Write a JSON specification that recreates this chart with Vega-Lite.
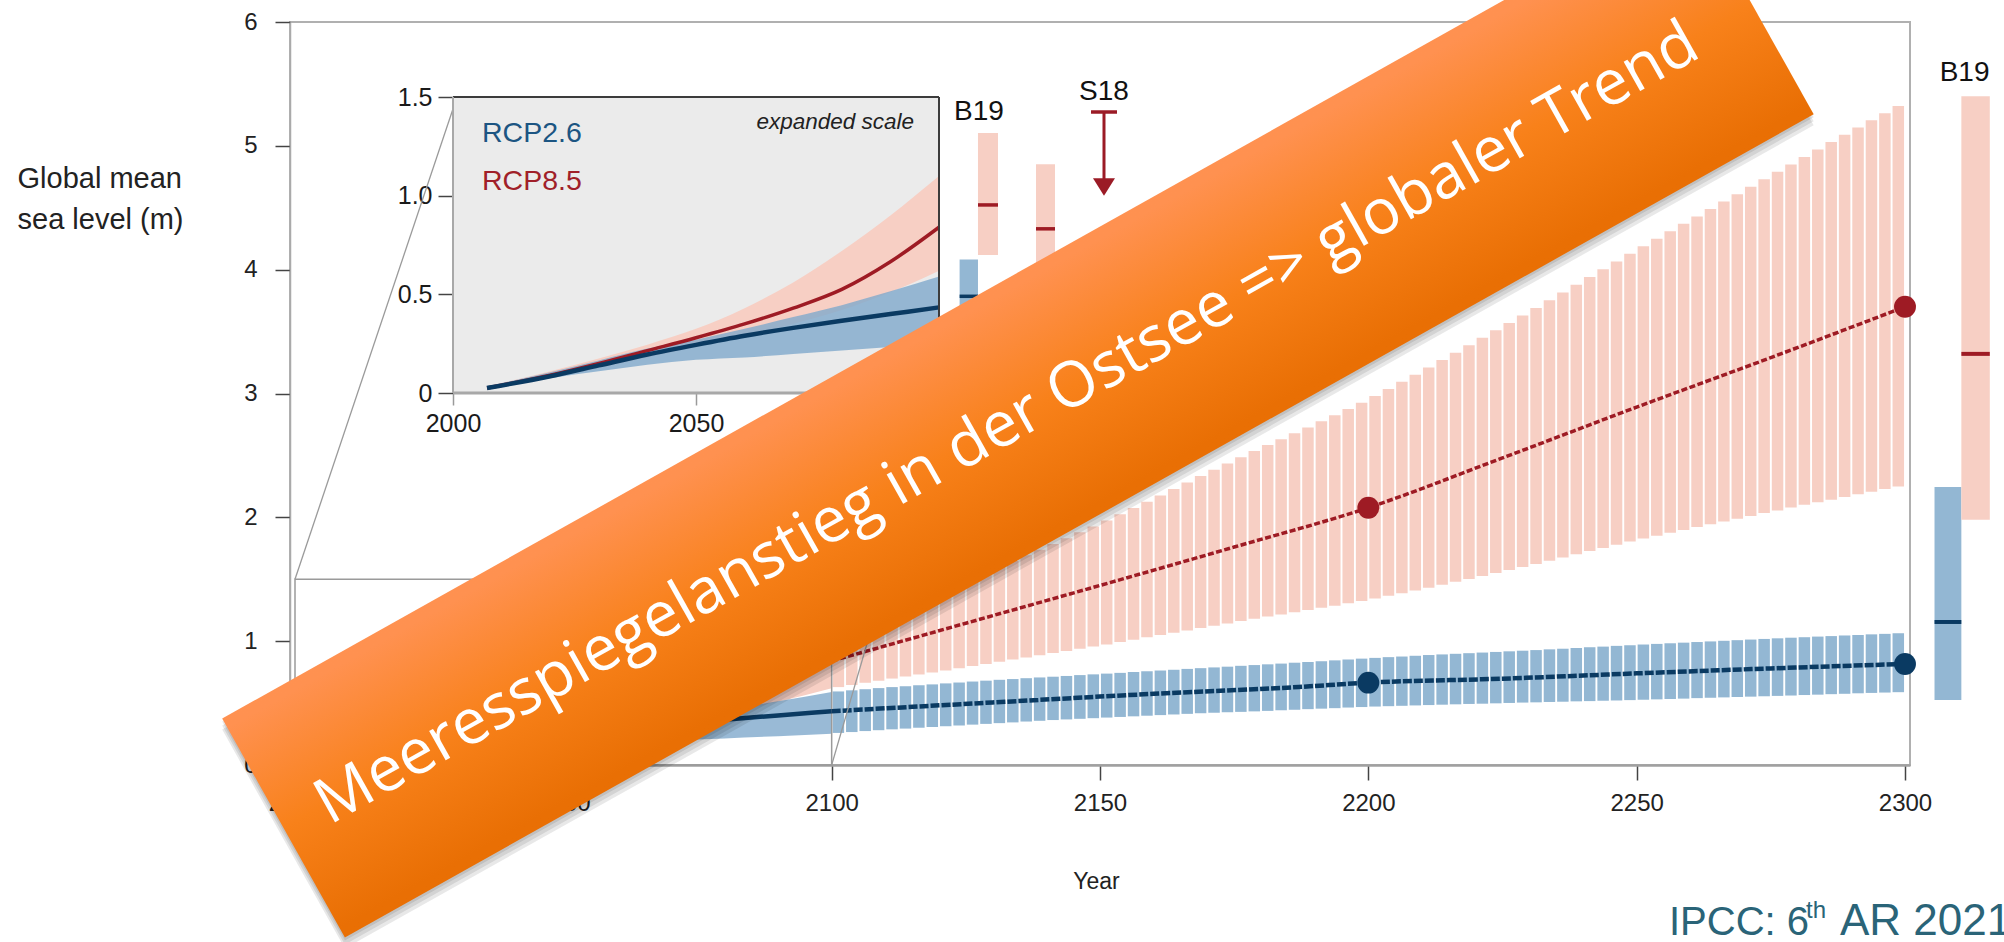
{
  "$schema": "https://vega.github.io/schema/vega-lite/v6.json",
  "width": 1620,
  "height": 743,
  "autosize": {"type": "none"},
  "padding": {"left": 290, "top": 22, "right": 94, "bottom": 177},
  "background": "#ffffff",
  "config": {"font": "Liberation Sans", "view": {"stroke": "#b0b0b0", "strokeWidth": 2}},
  "datasets": {
    "early": [
      {"year": 2007, "scen": "RCP2.6", "lo": 0.017, "med": 0.025, "hi": 0.035},
      {"year": 2020, "scen": "RCP2.6", "lo": 0.075, "med": 0.085, "hi": 0.105},
      {"year": 2030, "scen": "RCP2.6", "lo": 0.11, "med": 0.14, "hi": 0.165},
      {"year": 2040, "scen": "RCP2.6", "lo": 0.143, "med": 0.195, "hi": 0.225},
      {"year": 2050, "scen": "RCP2.6", "lo": 0.168, "med": 0.244, "hi": 0.27},
      {"year": 2060, "scen": "RCP2.6", "lo": 0.18, "med": 0.29, "hi": 0.325},
      {"year": 2070, "scen": "RCP2.6", "lo": 0.198, "med": 0.33, "hi": 0.385},
      {"year": 2080, "scen": "RCP2.6", "lo": 0.215, "med": 0.366, "hi": 0.445},
      {"year": 2090, "scen": "RCP2.6", "lo": 0.233, "med": 0.4, "hi": 0.515},
      {"year": 2100, "scen": "RCP2.6", "lo": 0.252, "med": 0.434, "hi": 0.59},
      {"year": 2007, "scen": "RCP8.5", "lo": 0.017, "med": 0.025, "hi": 0.034},
      {"year": 2020, "scen": "RCP8.5", "lo": 0.075, "med": 0.09, "hi": 0.11},
      {"year": 2030, "scen": "RCP8.5", "lo": 0.125, "med": 0.15, "hi": 0.175},
      {"year": 2040, "scen": "RCP8.5", "lo": 0.18, "med": 0.215, "hi": 0.245},
      {"year": 2050, "scen": "RCP8.5", "lo": 0.235, "med": 0.28, "hi": 0.325},
      {"year": 2060, "scen": "RCP8.5", "lo": 0.29, "med": 0.35, "hi": 0.43},
      {"year": 2070, "scen": "RCP8.5", "lo": 0.35, "med": 0.43, "hi": 0.56},
      {"year": 2080, "scen": "RCP8.5", "lo": 0.42, "med": 0.525, "hi": 0.72},
      {"year": 2090, "scen": "RCP8.5", "lo": 0.51, "med": 0.665, "hi": 0.9},
      {"year": 2100, "scen": "RCP8.5", "lo": 0.62, "med": 0.84, "hi": 1.1}
    ],
    "bars26": [
      {"year": 2101.25, "lo": 0.259, "hi": 0.594}, {"year": 2103.75, "lo": 0.266, "hi": 0.603},
      {"year": 2106.25, "lo": 0.274, "hi": 0.612}, {"year": 2108.75, "lo": 0.281, "hi": 0.621},
      {"year": 2111.25, "lo": 0.288, "hi": 0.629}, {"year": 2113.75, "lo": 0.294, "hi": 0.636},
      {"year": 2116.25, "lo": 0.301, "hi": 0.644}, {"year": 2118.75, "lo": 0.307, "hi": 0.651},
      {"year": 2121.25, "lo": 0.313, "hi": 0.659}, {"year": 2123.75, "lo": 0.319, "hi": 0.666},
      {"year": 2126.25, "lo": 0.326, "hi": 0.674}, {"year": 2128.75, "lo": 0.332, "hi": 0.681},
      {"year": 2131.25, "lo": 0.338, "hi": 0.688}, {"year": 2133.75, "lo": 0.344, "hi": 0.694},
      {"year": 2136.25, "lo": 0.351, "hi": 0.701}, {"year": 2138.75, "lo": 0.357, "hi": 0.707},
      {"year": 2141.25, "lo": 0.363, "hi": 0.713}, {"year": 2143.75, "lo": 0.368, "hi": 0.719},
      {"year": 2146.25, "lo": 0.373, "hi": 0.726}, {"year": 2148.75, "lo": 0.378, "hi": 0.732},
      {"year": 2151.25, "lo": 0.383, "hi": 0.738}, {"year": 2153.75, "lo": 0.388, "hi": 0.744},
      {"year": 2156.25, "lo": 0.393, "hi": 0.751}, {"year": 2158.75, "lo": 0.398, "hi": 0.757},
      {"year": 2161.25, "lo": 0.403, "hi": 0.763}, {"year": 2163.75, "lo": 0.408, "hi": 0.769},
      {"year": 2166.25, "lo": 0.413, "hi": 0.776}, {"year": 2168.75, "lo": 0.418, "hi": 0.782},
      {"year": 2171.25, "lo": 0.422, "hi": 0.788}, {"year": 2173.75, "lo": 0.426, "hi": 0.794},
      {"year": 2176.25, "lo": 0.429, "hi": 0.801}, {"year": 2178.75, "lo": 0.433, "hi": 0.807},
      {"year": 2181.25, "lo": 0.437, "hi": 0.813}, {"year": 2183.75, "lo": 0.442, "hi": 0.819},
      {"year": 2186.25, "lo": 0.446, "hi": 0.826}, {"year": 2188.75, "lo": 0.451, "hi": 0.832},
      {"year": 2191.25, "lo": 0.455, "hi": 0.838}, {"year": 2193.75, "lo": 0.459, "hi": 0.845},
      {"year": 2196.25, "lo": 0.464, "hi": 0.852}, {"year": 2198.75, "lo": 0.468, "hi": 0.859},
      {"year": 2201.25, "lo": 0.472, "hi": 0.865}, {"year": 2203.75, "lo": 0.475, "hi": 0.871},
      {"year": 2206.25, "lo": 0.478, "hi": 0.876}, {"year": 2208.75, "lo": 0.481, "hi": 0.882},
      {"year": 2211.25, "lo": 0.484, "hi": 0.888}, {"year": 2213.75, "lo": 0.487, "hi": 0.893},
      {"year": 2216.25, "lo": 0.49, "hi": 0.898}, {"year": 2218.75, "lo": 0.493, "hi": 0.903},
      {"year": 2221.25, "lo": 0.495, "hi": 0.908}, {"year": 2223.75, "lo": 0.498, "hi": 0.913},
      {"year": 2226.25, "lo": 0.501, "hi": 0.918}, {"year": 2228.75, "lo": 0.504, "hi": 0.923},
      {"year": 2231.25, "lo": 0.506, "hi": 0.928}, {"year": 2233.75, "lo": 0.509, "hi": 0.934},
      {"year": 2236.25, "lo": 0.511, "hi": 0.939}, {"year": 2238.75, "lo": 0.514, "hi": 0.945},
      {"year": 2241.25, "lo": 0.516, "hi": 0.951}, {"year": 2243.75, "lo": 0.519, "hi": 0.956},
      {"year": 2246.25, "lo": 0.521, "hi": 0.962}, {"year": 2248.75, "lo": 0.524, "hi": 0.967},
      {"year": 2251.25, "lo": 0.527, "hi": 0.973}, {"year": 2253.75, "lo": 0.53, "hi": 0.978},
      {"year": 2256.25, "lo": 0.533, "hi": 0.983}, {"year": 2258.75, "lo": 0.536, "hi": 0.988},
      {"year": 2261.25, "lo": 0.54, "hi": 0.993}, {"year": 2263.75, "lo": 0.543, "hi": 0.998},
      {"year": 2266.25, "lo": 0.546, "hi": 1.003}, {"year": 2268.75, "lo": 0.549, "hi": 1.008},
      {"year": 2271.25, "lo": 0.552, "hi": 1.013}, {"year": 2273.75, "lo": 0.555, "hi": 1.018},
      {"year": 2276.25, "lo": 0.558, "hi": 1.023}, {"year": 2278.75, "lo": 0.561, "hi": 1.028},
      {"year": 2281.25, "lo": 0.565, "hi": 1.032}, {"year": 2283.75, "lo": 0.568, "hi": 1.037},
      {"year": 2286.25, "lo": 0.572, "hi": 1.041}, {"year": 2288.75, "lo": 0.575, "hi": 1.046},
      {"year": 2291.25, "lo": 0.579, "hi": 1.05}, {"year": 2293.75, "lo": 0.582, "hi": 1.055},
      {"year": 2296.25, "lo": 0.585, "hi": 1.059}, {"year": 2298.75, "lo": 0.588, "hi": 1.064}
    ],
    "bars85": [
      {"year": 2101.25, "lo": 0.629, "hi": 1.119}, {"year": 2103.75, "lo": 0.646, "hi": 1.156},
      {"year": 2106.25, "lo": 0.664, "hi": 1.194}, {"year": 2108.75, "lo": 0.681, "hi": 1.231},
      {"year": 2111.25, "lo": 0.698, "hi": 1.27}, {"year": 2113.75, "lo": 0.714, "hi": 1.31},
      {"year": 2116.25, "lo": 0.731, "hi": 1.35}, {"year": 2118.75, "lo": 0.747, "hi": 1.39},
      {"year": 2121.25, "lo": 0.764, "hi": 1.431}, {"year": 2123.75, "lo": 0.781, "hi": 1.474},
      {"year": 2126.25, "lo": 0.799, "hi": 1.516}, {"year": 2128.75, "lo": 0.816, "hi": 1.559},
      {"year": 2131.25, "lo": 0.834, "hi": 1.603}, {"year": 2133.75, "lo": 0.851, "hi": 1.648},
      {"year": 2136.25, "lo": 0.869, "hi": 1.693}, {"year": 2138.75, "lo": 0.886, "hi": 1.738},
      {"year": 2141.25, "lo": 0.904, "hi": 1.784}, {"year": 2143.75, "lo": 0.921, "hi": 1.831},
      {"year": 2146.25, "lo": 0.939, "hi": 1.879}, {"year": 2148.75, "lo": 0.956, "hi": 1.926},
      {"year": 2151.25, "lo": 0.974, "hi": 1.975}, {"year": 2153.75, "lo": 0.993, "hi": 2.025},
      {"year": 2156.25, "lo": 1.012, "hi": 2.075}, {"year": 2158.75, "lo": 1.031, "hi": 2.125},
      {"year": 2161.25, "lo": 1.049, "hi": 2.176}, {"year": 2163.75, "lo": 1.068, "hi": 2.229},
      {"year": 2166.25, "lo": 1.087, "hi": 2.281}, {"year": 2168.75, "lo": 1.106, "hi": 2.334},
      {"year": 2171.25, "lo": 1.124, "hi": 2.385}, {"year": 2173.75, "lo": 1.143, "hi": 2.435},
      {"year": 2176.25, "lo": 1.162, "hi": 2.485}, {"year": 2178.75, "lo": 1.181, "hi": 2.535},
      {"year": 2181.25, "lo": 1.199, "hi": 2.584}, {"year": 2183.75, "lo": 1.216, "hi": 2.631},
      {"year": 2186.25, "lo": 1.234, "hi": 2.679}, {"year": 2188.75, "lo": 1.251, "hi": 2.726},
      {"year": 2191.25, "lo": 1.269, "hi": 2.775}, {"year": 2193.75, "lo": 1.287, "hi": 2.825},
      {"year": 2196.25, "lo": 1.306, "hi": 2.875}, {"year": 2198.75, "lo": 1.324, "hi": 2.925},
      {"year": 2201.25, "lo": 1.344, "hi": 2.979}, {"year": 2203.75, "lo": 1.366, "hi": 3.036},
      {"year": 2206.25, "lo": 1.387, "hi": 3.094}, {"year": 2208.75, "lo": 1.409, "hi": 3.151},
      {"year": 2211.25, "lo": 1.432, "hi": 3.21}, {"year": 2213.75, "lo": 1.456, "hi": 3.27},
      {"year": 2216.25, "lo": 1.479, "hi": 3.33}, {"year": 2218.75, "lo": 1.503, "hi": 3.39},
      {"year": 2221.25, "lo": 1.527, "hi": 3.45}, {"year": 2223.75, "lo": 1.551, "hi": 3.51},
      {"year": 2226.25, "lo": 1.574, "hi": 3.57}, {"year": 2228.75, "lo": 1.598, "hi": 3.63},
      {"year": 2231.25, "lo": 1.623, "hi": 3.691}, {"year": 2233.75, "lo": 1.649, "hi": 3.754},
      {"year": 2236.25, "lo": 1.676, "hi": 3.816}, {"year": 2238.75, "lo": 1.702, "hi": 3.879},
      {"year": 2241.25, "lo": 1.728, "hi": 3.941}, {"year": 2243.75, "lo": 1.753, "hi": 4.004},
      {"year": 2246.25, "lo": 1.779, "hi": 4.066}, {"year": 2248.75, "lo": 1.804, "hi": 4.129},
      {"year": 2251.25, "lo": 1.829, "hi": 4.19}, {"year": 2253.75, "lo": 1.852, "hi": 4.25},
      {"year": 2256.25, "lo": 1.875, "hi": 4.31}, {"year": 2258.75, "lo": 1.898, "hi": 4.37},
      {"year": 2261.25, "lo": 1.921, "hi": 4.43}, {"year": 2263.75, "lo": 1.944, "hi": 4.49},
      {"year": 2266.25, "lo": 1.966, "hi": 4.55}, {"year": 2268.75, "lo": 1.989, "hi": 4.61},
      {"year": 2271.25, "lo": 2.011, "hi": 4.67}, {"year": 2273.75, "lo": 2.034, "hi": 4.73},
      {"year": 2276.25, "lo": 2.056, "hi": 4.79}, {"year": 2278.75, "lo": 2.079, "hi": 4.85},
      {"year": 2281.25, "lo": 2.101, "hi": 4.91}, {"year": 2283.75, "lo": 2.122, "hi": 4.97},
      {"year": 2286.25, "lo": 2.143, "hi": 5.03}, {"year": 2288.75, "lo": 2.164, "hi": 5.09},
      {"year": 2291.25, "lo": 2.186, "hi": 5.149}, {"year": 2293.75, "lo": 2.207, "hi": 5.206},
      {"year": 2296.25, "lo": 2.228, "hi": 5.264}, {"year": 2298.75, "lo": 2.249, "hi": 5.321}
    ],
    "medians": [
      {"year": 2100, "scen": "RCP2.6", "v": 0.434}, {"year": 2130, "scen": "RCP2.6", "v": 0.505},
      {"year": 2160, "scen": "RCP2.6", "v": 0.575}, {"year": 2187, "scen": "RCP2.6", "v": 0.63},
      {"year": 2200, "scen": "RCP2.6", "v": 0.665}, {"year": 2225, "scen": "RCP2.6", "v": 0.697},
      {"year": 2250, "scen": "RCP2.6", "v": 0.74}, {"year": 2275, "scen": "RCP2.6", "v": 0.78},
      {"year": 2300, "scen": "RCP2.6", "v": 0.816},
      {"year": 2100, "scen": "RCP8.5", "v": 0.84}, {"year": 2125, "scen": "RCP8.5", "v": 1.145},
      {"year": 2150, "scen": "RCP8.5", "v": 1.45}, {"year": 2175, "scen": "RCP8.5", "v": 1.76},
      {"year": 2200, "scen": "RCP8.5", "v": 2.078}, {"year": 2225, "scen": "RCP8.5", "v": 2.48},
      {"year": 2250, "scen": "RCP8.5", "v": 2.89}, {"year": 2275, "scen": "RCP8.5", "v": 3.29},
      {"year": 2300, "scen": "RCP8.5", "v": 3.7}
    ],
    "dots": [
      {"year": 2200, "scen": "RCP2.6", "v": 0.665}, {"year": 2300, "scen": "RCP2.6", "v": 0.816},
      {"year": 2200, "scen": "RCP8.5", "v": 2.078}, {"year": 2300, "scen": "RCP8.5", "v": 3.7}
    ],
    "b19main": [
      {"scen": "RCP2.6", "x0": 2305.5, "x1": 2310.5, "lo": 0.525, "med": 1.155, "hi": 2.245},
      {"scen": "RCP8.5", "x0": 2310.5, "x1": 2315.8, "lo": 1.98, "med": 3.32, "hi": 5.4}
    ],
    "b19inset": [
      {"scen": "RCP2.6", "x0": 2104.24, "x1": 2108.02, "lo": 0.27, "med": 0.49, "hi": 0.677},
      {"scen": "RCP8.5", "x0": 2108.02, "x1": 2112.14, "lo": 0.699, "med": 0.953, "hi": 1.318},
      {"scen": "RCP8.5", "x0": 2119.96, "x1": 2123.87, "lo": 0.6, "med": 0.832, "hi": 1.159}
    ],
    "zoombox": [{"x0": 2000, "x1": 2100, "y0": 0, "y1": 1.5}],
    "connectors": [
      {"x": 2000, "y": 1.5, "x2": 2030.2, "y2": 5.396},
      {"x": 2100, "y": 0, "x2": 2120.2, "y2": 3.005}
    ],
    "insetedges": [
      {"edge": "top", "x": 2000, "y": 1.5, "x2": 2100, "y2": 1.5},
      {"edge": "right", "x": 2100, "y": 0, "x2": 2100, "y2": 1.5},
      {"edge": "left", "x": 2000, "y": 0, "x2": 2000, "y2": 1.5},
      {"edge": "bottom", "x": 2000, "y": 0, "x2": 2100, "y2": 0}
    ],
    "scenlabels": [
      {"scen": "RCP2.6", "x": 2005.97, "y": 1.32},
      {"scen": "RCP8.5", "x": 2005.97, "y": 1.072}
    ],
    "sourcelabels": [
      {"label": "B19", "x": 2108.23, "y": 1.424},
      {"label": "S18", "x": 2133.95, "y": 1.525}
    ],
    "s18stem": [{"x": 2133.95, "y": 1.424, "y2": 1.079}],
    "s18cap": [{"x": 2131.28, "x2": 2136.63, "y": 1.424}],
    "s18head": [{"x": 2133.95, "y": 1.044}],
    "banner": [{"x": 1998.8, "y": -0.509, "x2": 2270.8, "y2": 6.139}],
    "bannershadow": [
      {"k": 1, "x": 1998.8, "y": -0.533, "x2": 2270.8, "y2": 6.115},
      {"k": 2, "x": 1998.8, "y": -0.566, "x2": 2270.8, "y2": 6.082},
      {"k": 3, "x": 1998.8, "y": -0.598, "x2": 2270.8, "y2": 6.05}
    ],
    "bannertext": [{"x": 2132.78, "y": 2.754, "text": "Meeresspiegelanstieg in der Ostsee => globaler Trend"}],
    "credit": [
      {"part": "main", "x": 2255.37, "y": -1.373, "text": "IPCC: 6"},
      {"part": "sup", "x": 2280.74, "y": -1.236, "text": "th"},
      {"part": "wide", "x": 2287.04, "y": -1.373, "text": "AR 2021"}
    ]
  },
  "layer": [
    {
      "layer": [
        {
          "data": {"name": "early"},
          "transform": [{"filter": "datum.scen === 'RCP8.5'"}],
          "mark": {"type": "area", "fill": "#f7cfc4", "interpolate": "monotone"},
          "encoding": {
            "x": {
              "field": "year", "type": "quantitative",
              "scale": {"domain": [2000, 2300], "nice": false, "zero": false},
              "axis": {
                "values": [2000, 2050, 2100, 2150, 2200, 2250, 2300], "format": "d", "grid": false,
                "title": "Year", "titleFontSize": 23, "titleFontWeight": "normal", "titleColor": "#222222",
                "titleX": 806, "titleY": 123, "titleBaseline": "alphabetic",
                "labelFontSize": 24, "labelColor": "#222222", "labelPadding": 11, "labelFlush": false, "labelOverlap": false,
                "tickSize": 15, "tickColor": "#444444", "tickWidth": 1.5,
                "domainColor": "#a0a0a0", "domainWidth": 2.5
              }
            },
            "y": {
              "field": "lo", "type": "quantitative",
              "scale": {"domain": [0, 6], "nice": false, "zero": false},
              "axis": {
                "values": [0, 1, 2, 3, 4, 5, 6], "format": "d", "grid": false,
                "title": ["Global mean", "sea level (m)"], "titleAngle": 0, "titleAlign": "left",
                "titleX": -273, "titleY": 165, "titleBaseline": "alphabetic", "titleLineHeight": 41,
                "titleFontSize": 29, "titleFontWeight": "normal", "titleColor": "#222222",
                "labelFontSize": 24, "labelColor": "#222222", "labelPadding": 18, "labelFlush": false,
                "tickSize": 15, "tickColor": "#444444", "tickWidth": 1.5,
                "domainColor": "#aaaaaa", "domainWidth": 1.5
              }
            },
            "y2": {"field": "hi"}
          }
        },
        {
          "data": {"name": "early"},
          "transform": [{"filter": "datum.scen === 'RCP2.6'"}],
          "mark": {"type": "area", "fill": "#7fa9cc", "opacity": 0.8, "interpolate": "monotone"},
          "encoding": {
            "x": {"field": "year", "type": "quantitative", "scale": {"domain": [2000, 2300], "nice": false, "zero": false}},
            "y": {"field": "lo", "type": "quantitative", "scale": {"domain": [0, 6], "nice": false, "zero": false}},
            "y2": {"field": "hi"}
          }
        },
        {
          "data": {"name": "bars85"},
          "mark": {"type": "bar", "width": 11.5, "fill": "#f7cfc4"},
          "encoding": {
            "x": {"field": "year", "type": "quantitative", "scale": {"domain": [2000, 2300], "nice": false, "zero": false}},
            "y": {"field": "lo", "type": "quantitative", "scale": {"domain": [0, 6], "nice": false, "zero": false}},
            "y2": {"field": "hi"}
          }
        },
        {
          "data": {"name": "bars26"},
          "mark": {"type": "bar", "width": 11.5, "fill": "#93b7d3"},
          "encoding": {
            "x": {"field": "year", "type": "quantitative", "scale": {"domain": [2000, 2300], "nice": false, "zero": false}},
            "y": {"field": "lo", "type": "quantitative", "scale": {"domain": [0, 6], "nice": false, "zero": false}},
            "y2": {"field": "hi"}
          }
        },
        {
          "data": {"name": "zoombox"},
          "mark": {"type": "rect", "fillOpacity": 0, "stroke": "#9a9a9a", "strokeWidth": 1.5},
          "encoding": {
            "x": {"field": "x0", "type": "quantitative", "scale": {"domain": [2000, 2300], "nice": false, "zero": false}},
            "x2": {"field": "x1"},
            "y": {"field": "y0", "type": "quantitative", "scale": {"domain": [0, 6], "nice": false, "zero": false}},
            "y2": {"field": "y1"}
          }
        },
        {
          "data": {"name": "early"},
          "transform": [{"filter": "datum.scen === 'RCP8.5'"}],
          "mark": {"type": "line", "stroke": "#9e1b24", "strokeWidth": 3.5, "interpolate": "monotone"},
          "encoding": {
            "x": {"field": "year", "type": "quantitative", "scale": {"domain": [2000, 2300], "nice": false, "zero": false}},
            "y": {"field": "med", "type": "quantitative", "scale": {"domain": [0, 6], "nice": false, "zero": false}}
          }
        },
        {
          "data": {"name": "early"},
          "transform": [{"filter": "datum.scen === 'RCP2.6'"}],
          "mark": {"type": "line", "stroke": "#0a3a62", "strokeWidth": 4.5, "interpolate": "monotone"},
          "encoding": {
            "x": {"field": "year", "type": "quantitative", "scale": {"domain": [2000, 2300], "nice": false, "zero": false}},
            "y": {"field": "med", "type": "quantitative", "scale": {"domain": [0, 6], "nice": false, "zero": false}}
          }
        },
        {
          "data": {"name": "medians"},
          "transform": [{"filter": "datum.scen === 'RCP8.5'"}],
          "mark": {"type": "line", "stroke": "#9e1b24", "strokeWidth": 3.5, "strokeDash": [6, 2.5], "interpolate": "monotone"},
          "encoding": {
            "x": {"field": "year", "type": "quantitative", "scale": {"domain": [2000, 2300], "nice": false, "zero": false}},
            "y": {"field": "v", "type": "quantitative", "scale": {"domain": [0, 6], "nice": false, "zero": false}}
          }
        },
        {
          "data": {"name": "medians"},
          "transform": [{"filter": "datum.scen === 'RCP2.6'"}],
          "mark": {"type": "line", "stroke": "#0a3a62", "strokeWidth": 4.5, "strokeDash": [9, 2], "interpolate": "monotone"},
          "encoding": {
            "x": {"field": "year", "type": "quantitative", "scale": {"domain": [2000, 2300], "nice": false, "zero": false}},
            "y": {"field": "v", "type": "quantitative", "scale": {"domain": [0, 6], "nice": false, "zero": false}}
          }
        },
        {
          "data": {"name": "dots"},
          "mark": {"type": "point", "filled": true, "size": 480, "opacity": 1},
          "encoding": {
            "x": {"field": "year", "type": "quantitative", "scale": {"domain": [2000, 2300], "nice": false, "zero": false}},
            "y": {"field": "v", "type": "quantitative", "scale": {"domain": [0, 6], "nice": false, "zero": false}},
            "fill": {"condition": {"test": "datum.scen === 'RCP8.5'", "value": "#9e1b24"}, "value": "#0a3a62"}
          }
        },
        {
          "data": {"name": "b19main"},
          "mark": {"type": "rect"},
          "encoding": {
            "x": {"field": "x0", "type": "quantitative", "scale": {"domain": [2000, 2300], "nice": false, "zero": false}},
            "x2": {"field": "x1"},
            "y": {"field": "lo", "type": "quantitative", "scale": {"domain": [0, 6], "nice": false, "zero": false}},
            "y2": {"field": "hi"},
            "fill": {"condition": {"test": "datum.scen === 'RCP8.5'", "value": "#f7cfc4"}, "value": "#93b7d3"}
          }
        },
        {
          "data": {"name": "b19main"},
          "mark": {"type": "rule", "strokeWidth": 4},
          "encoding": {
            "x": {"field": "x0", "type": "quantitative", "scale": {"domain": [2000, 2300], "nice": false, "zero": false}},
            "x2": {"field": "x1"},
            "y": {"field": "med", "type": "quantitative", "scale": {"domain": [0, 6], "nice": false, "zero": false}},
            "stroke": {"condition": {"test": "datum.scen === 'RCP8.5'", "value": "#9e1b24"}, "value": "#0a3a62"}
          }
        },
        {
          "data": {"name": "connectors"},
          "mark": {"type": "rule", "stroke": "#9a9a9a", "strokeWidth": 1.3},
          "encoding": {
            "x": {"field": "x", "type": "quantitative", "scale": {"domain": [2000, 2300], "nice": false, "zero": false}},
            "y": {"field": "y", "type": "quantitative", "scale": {"domain": [0, 6], "nice": false, "zero": false}},
            "x2": {"field": "x2"},
            "y2": {"field": "y2"}
          }
        },
        {
          "data": {"values": [{"label": "B19", "x": 2311.1, "y": 5.59}]},
          "mark": {"type": "text", "fontSize": 28, "fill": "#111111", "align": "center", "baseline": "middle"},
          "encoding": {
            "x": {"field": "x", "type": "quantitative", "scale": {"domain": [2000, 2300], "nice": false, "zero": false}},
            "y": {"field": "y", "type": "quantitative", "scale": {"domain": [0, 6], "nice": false, "zero": false}},
            "text": {"field": "label"}
          }
        }
      ]
    },
    {
      "layer": [
        {
          "data": {"name": "zoombox"},
          "mark": {"type": "rect", "fill": "#ebebeb"},
          "encoding": {
            "x": {
              "field": "x0", "type": "quantitative",
              "scale": {"domain": [2000, 2100], "range": [163, 649], "nice": false, "zero": false},
              "axis": {
                "orient": "bottom", "offset": -372, "values": [2000, 2050, 2100], "format": "d",
                "title": null, "grid": false, "domain": false,
                "labelFontSize": 25, "labelColor": "#1a1a1a",
                "labelPadding": 6, "labelFlush": false, "labelOverlap": false,
                "tickSize": 12, "tickColor": "#9a9a9a", "tickWidth": 1.5
              }
            },
            "x2": {"field": "x1"},
            "y": {
              "field": "y0", "type": "quantitative",
              "scale": {"domain": [0, 1.5], "range": [371, 75], "nice": false, "zero": false},
              "axis": {
                "orient": "left", "offset": -163, "values": [0, 0.5, 1, 1.5],
                "labelExpr": "datum.value === 0 ? '0' : format(datum.value, '.1f')",
                "title": null, "grid": false, "domain": false,
                "labelFontSize": 25, "labelColor": "#1a1a1a",
                "labelPadding": 6, "labelFlush": false, "labelOverlap": false,
                "tickSize": 15, "tickColor": "#444444", "tickWidth": 1.5
              }
            },
            "y2": {"field": "y1"}
          }
        },
        {
          "data": {"name": "early"},
          "transform": [{"filter": "datum.scen === 'RCP8.5'"}],
          "mark": {"type": "area", "fill": "#f7cfc4", "interpolate": "monotone"},
          "encoding": {
            "x": {"field": "year", "type": "quantitative", "scale": {"domain": [2000, 2100], "range": [163, 649], "nice": false, "zero": false}},
            "y": {"field": "lo", "type": "quantitative", "scale": {"domain": [0, 1.5], "range": [371, 75], "nice": false, "zero": false}},
            "y2": {"field": "hi"}
          }
        },
        {
          "data": {"name": "early"},
          "transform": [{"filter": "datum.scen === 'RCP2.6'"}],
          "mark": {"type": "area", "fill": "#7fa9cc", "opacity": 0.8, "interpolate": "monotone"},
          "encoding": {
            "x": {"field": "year", "type": "quantitative", "scale": {"domain": [2000, 2100], "range": [163, 649], "nice": false, "zero": false}},
            "y": {"field": "lo", "type": "quantitative", "scale": {"domain": [0, 1.5], "range": [371, 75], "nice": false, "zero": false}},
            "y2": {"field": "hi"}
          }
        },
        {
          "data": {"name": "early"},
          "transform": [{"filter": "datum.scen === 'RCP8.5'"}],
          "mark": {"type": "line", "stroke": "#9e1b24", "strokeWidth": 3.5, "interpolate": "monotone"},
          "encoding": {
            "x": {"field": "year", "type": "quantitative", "scale": {"domain": [2000, 2100], "range": [163, 649], "nice": false, "zero": false}},
            "y": {"field": "med", "type": "quantitative", "scale": {"domain": [0, 1.5], "range": [371, 75], "nice": false, "zero": false}}
          }
        },
        {
          "data": {"name": "early"},
          "transform": [{"filter": "datum.scen === 'RCP2.6'"}],
          "mark": {"type": "line", "stroke": "#0a3a62", "strokeWidth": 4.5, "interpolate": "monotone"},
          "encoding": {
            "x": {"field": "year", "type": "quantitative", "scale": {"domain": [2000, 2100], "range": [163, 649], "nice": false, "zero": false}},
            "y": {"field": "med", "type": "quantitative", "scale": {"domain": [0, 1.5], "range": [371, 75], "nice": false, "zero": false}}
          }
        },
        {
          "data": {"name": "insetedges"},
          "mark": {"type": "rule"},
          "encoding": {
            "x": {"field": "x", "type": "quantitative", "scale": {"domain": [2000, 2100], "range": [163, 649], "nice": false, "zero": false}},
            "y": {"field": "y", "type": "quantitative", "scale": {"domain": [0, 1.5], "range": [371, 75], "nice": false, "zero": false}},
            "x2": {"field": "x2"},
            "y2": {"field": "y2"},
            "stroke": {"condition": {"test": "datum.edge === 'top' || datum.edge === 'right'", "value": "#3c3c3c"}, "value": "#a8a8a8"},
            "strokeWidth": {"condition": {"test": "datum.edge === 'bottom'", "value": 3}, "value": 2}
          }
        },
        {
          "data": {"name": "scenlabels"},
          "mark": {"type": "text", "fontSize": 28.5, "align": "left", "baseline": "middle"},
          "encoding": {
            "x": {"field": "x", "type": "quantitative", "scale": {"domain": [2000, 2100], "range": [163, 649], "nice": false, "zero": false}},
            "y": {"field": "y", "type": "quantitative", "scale": {"domain": [0, 1.5], "range": [371, 75], "nice": false, "zero": false}},
            "text": {"field": "scen"},
            "fill": {"condition": {"test": "datum.scen === 'RCP8.5'", "value": "#a01f29"}, "value": "#1c5582"}
          }
        },
        {
          "data": {"values": [{"label": "expanded scale", "x": 2094.86, "y": 1.373}]},
          "mark": {"type": "text", "fontStyle": "italic", "fontSize": 22.5, "fill": "#222222", "align": "right", "baseline": "middle"},
          "encoding": {
            "x": {"field": "x", "type": "quantitative", "scale": {"domain": [2000, 2100], "range": [163, 649], "nice": false, "zero": false}},
            "y": {"field": "y", "type": "quantitative", "scale": {"domain": [0, 1.5], "range": [371, 75], "nice": false, "zero": false}},
            "text": {"field": "label"}
          }
        },
        {
          "data": {"name": "b19inset"},
          "mark": {"type": "rect"},
          "encoding": {
            "x": {"field": "x0", "type": "quantitative", "scale": {"domain": [2000, 2100], "range": [163, 649], "nice": false, "zero": false}},
            "x2": {"field": "x1"},
            "y": {"field": "lo", "type": "quantitative", "scale": {"domain": [0, 1.5], "range": [371, 75], "nice": false, "zero": false}},
            "y2": {"field": "hi"},
            "fill": {"condition": {"test": "datum.scen === 'RCP8.5'", "value": "#f7cfc4"}, "value": "#93b7d3"}
          }
        },
        {
          "data": {"name": "b19inset"},
          "mark": {"type": "rule", "strokeWidth": 3.5},
          "encoding": {
            "x": {"field": "x0", "type": "quantitative", "scale": {"domain": [2000, 2100], "range": [163, 649], "nice": false, "zero": false}},
            "x2": {"field": "x1"},
            "y": {"field": "med", "type": "quantitative", "scale": {"domain": [0, 1.5], "range": [371, 75], "nice": false, "zero": false}},
            "stroke": {"condition": {"test": "datum.scen === 'RCP8.5'", "value": "#9e1b24"}, "value": "#0a3a62"}
          }
        },
        {
          "data": {"name": "s18stem"},
          "mark": {"type": "rule", "stroke": "#9b1b26", "strokeWidth": 3},
          "encoding": {
            "x": {"field": "x", "type": "quantitative", "scale": {"domain": [2000, 2100], "range": [163, 649], "nice": false, "zero": false}},
            "y": {"field": "y", "type": "quantitative", "scale": {"domain": [0, 1.5], "range": [371, 75], "nice": false, "zero": false}},
            "y2": {"field": "y2"}
          }
        },
        {
          "data": {"name": "s18cap"},
          "mark": {"type": "rule", "stroke": "#9b1b26", "strokeWidth": 3.5},
          "encoding": {
            "x": {"field": "x", "type": "quantitative", "scale": {"domain": [2000, 2100], "range": [163, 649], "nice": false, "zero": false}},
            "x2": {"field": "x2"},
            "y": {"field": "y", "type": "quantitative", "scale": {"domain": [0, 1.5], "range": [371, 75], "nice": false, "zero": false}}
          }
        },
        {
          "data": {"name": "s18head"},
          "mark": {"type": "point", "shape": "M-1,-0.8L1,-0.8L0,0.8Z", "size": 484, "filled": true, "fill": "#9b1b26", "opacity": 1},
          "encoding": {
            "x": {"field": "x", "type": "quantitative", "scale": {"domain": [2000, 2100], "range": [163, 649], "nice": false, "zero": false}},
            "y": {"field": "y", "type": "quantitative", "scale": {"domain": [0, 1.5], "range": [371, 75], "nice": false, "zero": false}}
          }
        },
        {
          "data": {"name": "sourcelabels"},
          "mark": {"type": "text", "fontSize": 28, "fill": "#111111", "align": "center", "baseline": "middle"},
          "encoding": {
            "x": {"field": "x", "type": "quantitative", "scale": {"domain": [2000, 2100], "range": [163, 649], "nice": false, "zero": false}},
            "y": {"field": "y", "type": "quantitative", "scale": {"domain": [0, 1.5], "range": [371, 75], "nice": false, "zero": false}},
            "text": {"field": "label"}
          }
        }
      ]
    },
    {
      "layer": [
        {
          "data": {"name": "bannershadow"},
          "mark": {"type": "rule", "stroke": "#000000", "opacity": 0.09, "strokeWidth": 251, "strokeCap": "butt"},
          "encoding": {
            "x": {"field": "x", "type": "quantitative", "scale": {"domain": [2000, 2300], "nice": false, "zero": false}, "axis": null},
            "y": {"field": "y", "type": "quantitative", "scale": {"domain": [0, 6], "nice": false, "zero": false}, "axis": null},
            "x2": {"field": "x2"},
            "y2": {"field": "y2"}
          }
        },
        {
          "data": {"name": "banner"},
          "mark": {
            "type": "rule", "strokeWidth": 251, "strokeCap": "butt",
            "stroke": {
              "gradient": "linear", "x1": 0, "y1": 0, "x2": 1, "y2": 1,
              "stops": [
                {"offset": 0, "color": "#ff9a5e"},
                {"offset": 0.42, "color": "#ff9150"},
                {"offset": 0.5, "color": "#f8811a"},
                {"offset": 0.58, "color": "#e96f04"},
                {"offset": 1, "color": "#e46a00"}
              ]
            }
          },
          "encoding": {
            "x": {"field": "x", "type": "quantitative", "scale": {"domain": [2000, 2300], "nice": false, "zero": false}, "axis": null},
            "y": {"field": "y", "type": "quantitative", "scale": {"domain": [0, 6], "nice": false, "zero": false}, "axis": null},
            "x2": {"field": "x2"},
            "y2": {"field": "y2"}
          }
        },
        {
          "data": {"name": "bannertext"},
          "mark": {"type": "text", "font": "Open Sans", "fontSize": 63, "fill": "#ffffff", "angle": 330.74, "align": "center", "baseline": "middle"},
          "encoding": {
            "x": {"field": "x", "type": "quantitative", "scale": {"domain": [2000, 2300], "nice": false, "zero": false}, "axis": null},
            "y": {"field": "y", "type": "quantitative", "scale": {"domain": [0, 6], "nice": false, "zero": false}, "axis": null},
            "text": {"field": "text"}
          }
        },
        {
          "data": {"name": "credit"},
          "transform": [{"filter": "datum.part === 'main'"}],
          "mark": {"type": "text", "fontSize": 40, "fill": "#2a6478", "align": "left", "baseline": "alphabetic"},
          "encoding": {
            "x": {"field": "x", "type": "quantitative", "scale": {"domain": [2000, 2300], "nice": false, "zero": false}, "axis": null},
            "y": {"field": "y", "type": "quantitative", "scale": {"domain": [0, 6], "nice": false, "zero": false}, "axis": null},
            "text": {"field": "text"}
          }
        },
        {
          "data": {"name": "credit"},
          "transform": [{"filter": "datum.part === 'wide'"}],
          "mark": {"type": "text", "fontSize": 44, "fill": "#2a6478", "align": "left", "baseline": "alphabetic"},
          "encoding": {
            "x": {"field": "x", "type": "quantitative", "scale": {"domain": [2000, 2300], "nice": false, "zero": false}, "axis": null},
            "y": {"field": "y", "type": "quantitative", "scale": {"domain": [0, 6], "nice": false, "zero": false}, "axis": null},
            "text": {"field": "text"}
          }
        },
        {
          "data": {"name": "credit"},
          "transform": [{"filter": "datum.part === 'sup'"}],
          "mark": {"type": "text", "fontSize": 24, "fill": "#2a6478", "align": "left", "baseline": "alphabetic"},
          "encoding": {
            "x": {"field": "x", "type": "quantitative", "scale": {"domain": [2000, 2300], "nice": false, "zero": false}, "axis": null},
            "y": {"field": "y", "type": "quantitative", "scale": {"domain": [0, 6], "nice": false, "zero": false}, "axis": null},
            "text": {"field": "text"}
          }
        }
      ]
    }
  ],
  "resolve": {
    "scale": {"x": "independent", "y": "independent"},
    "axis": {"x": "independent", "y": "independent"}
  }
}
